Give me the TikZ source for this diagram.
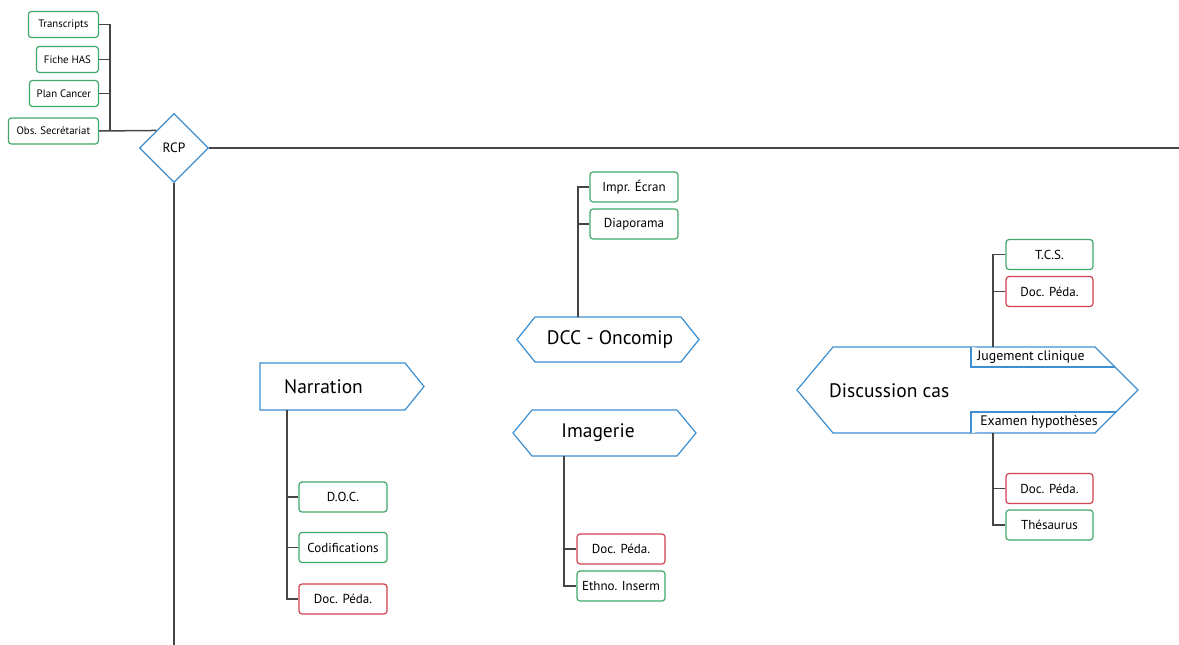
\documentclass[tikz,border=0pt]{standalone}
\usepackage{fontspec}
\setmainfont{PT Sans}
\usetikzlibrary{shapes.geometric}
\definecolor{boxgreen}{RGB}{65,168,106}
\definecolor{boxred}{RGB}{210,66,79}
\definecolor{boxblue}{RGB}{61,143,209}
\definecolor{linegray}{RGB}{70,70,70}
\begin{document}
\begin{tikzpicture}[x=1pt,y=-1pt,
  src/.style={draw=boxgreen,line width=1.2pt,rounded corners=3pt,fill=white,minimum height=26pt,inner sep=0pt,font=\fontsize{10.8}{12}\selectfont},
  tool/.style={draw=boxgreen,line width=1.2pt,rounded corners=3pt,fill=white,minimum width=88pt,minimum height=30pt,inner sep=0pt,font=\fontsize{13}{15}\selectfont},
  doc/.style={tool,draw=boxred},
  stage/.style={draw=boxblue,line width=1.2pt,fill=white},
  big/.style={inner sep=0pt,font=\fontsize{19.5}{22}\selectfont},
  tag/.style={inner sep=0pt,font=\fontsize{13.8}{15}\selectfont},
  link/.style={linegray,line width=1.5pt}]
\useasboundingbox (0,0) rectangle (1179,645);
%\draw[step=50pt,gray,very thin] (0,0) grid (1179,645); %background grid

% RCP and its sources
\node[src,minimum width=70pt,anchor=east] (transcripts) at (99,24.5) {Transcripts};
\node[src,minimum width=62pt,anchor=east] (fiche) at (99,59.5) {Fiche HAS};
\node[src,minimum width=69pt,anchor=east] (plan) at (99,93.5) {Plan Cancer};
\node[src,minimum width=90pt,anchor=east] (obs) at (99,131) {Obs. Secrétariat};
\node[diamond,aspect=1,draw=boxblue,line width=1.2pt,fill=white,minimum size=69pt,inner sep=0pt,font=\fontsize{13.5}{15}\selectfont] (rcp) at (174,148) {RCP};

\coordinate (hub) at (110,131);
\coordinate (eastend) at (1179,148);
\coordinate (southend) at (174,645);
\draw[link] (transcripts.east) -| (hub);
\draw[link] (fiche.east) -- (fiche.east -| hub);
\draw[link] (plan.east) -- (plan.east -| hub);
\draw[link] (obs.east) -- (rcp.north west);
\draw[link] (rcp.east) -- (eastend); %x
\draw[link] (rcp.south) -- (southend); %y

% Narration
\draw[stage] (260,363) -- (405,363) -- (424,386.5) -- (405,410) -- (260,410) -- cycle;
\node[big,anchor=west] (narration) at (284,387) {Narration};
\coordinate (narrbot) at (287,410);
\node[tool] (doc) at (343,497) {D.O.C.};
\node[tool] (codif) at (343,547.5) {Codifications};
\node[doc] (pedanarr) at (343,599) {Doc. Péda.};
\draw[link] (narrbot) |- (pedanarr.west);
\draw[link] (doc.west) -- (doc.west -| narrbot);
\draw[link] (codif.west) -- (codif.west -| narrbot);

% DCC - Oncomip
\draw[stage] (517,339.5) -- (535,317) -- (681,317) -- (699,339.5) -- (681,362) -- (535,362) -- cycle;
\node[big] (dcc) at (610,340) {DCC - Oncomip};
\coordinate (dcctop) at (578,317);
\node[tool] (ecran) at (634,187) {Impr. Écran};
\node[tool] (diapo) at (634,224) {Diaporama};
\draw[link] (dcctop) |- (ecran.west);
\draw[link] (diapo.west) -- (diapo.west -| dcctop);

% Imagerie
\draw[stage] (513,433) -- (532,410) -- (677,410) -- (696,433) -- (677,456) -- (532,456) -- cycle;
\node[big] (imagerie) at (598,433) {Imagerie};
\coordinate (imgbot) at (564,456);
\node[doc] (pedaimg) at (621,549) {Doc. Péda.};
\node[tool] (ethno) at (621,586) {Ethno. Inserm};
\draw[link] (imgbot) |- (ethno.west);
\draw[link] (pedaimg.west) -- (pedaimg.west -| imgbot);

% Discussion cas
\draw[stage] (797,390) -- (833,347) -- (1095,347) -- (1138,390) -- (1095,433) -- (833,433) -- cycle;
\draw[stage] (971,347) -- (971,367) -- (1115,367);
\draw[stage] (971,433) -- (971,412) -- (1116,412);
\node[big,anchor=west] (discussion) at (829,391) {Discussion cas};
\node[tag] (jugement) at (1031,357) {Jugement clinique};
\node[tag] (examen) at (1039,422) {Examen hypothèses};
\coordinate (distop) at (993,347);
\coordinate (disbot) at (993,433);
\node[tool,minimum width=87pt] (tcs) at (1049.5,254.5) {T.C.S.};
\node[doc,minimum width=87pt] (pedajug) at (1049.5,291.5) {Doc. Péda.};
\node[doc,minimum width=87pt] (pedaexa) at (1049.5,488.5) {Doc. Péda.};
\node[tool,minimum width=87pt] (thesaurus) at (1049.5,525) {Thésaurus};
\draw[link] (distop) |- (tcs.west);
\draw[link] (pedajug.west) -- (pedajug.west -| distop);
\draw[link] (disbot) |- (thesaurus.west);
\draw[link] (pedaexa.west) -- (pedaexa.west -| disbot);

\end{tikzpicture}
\end{document}
